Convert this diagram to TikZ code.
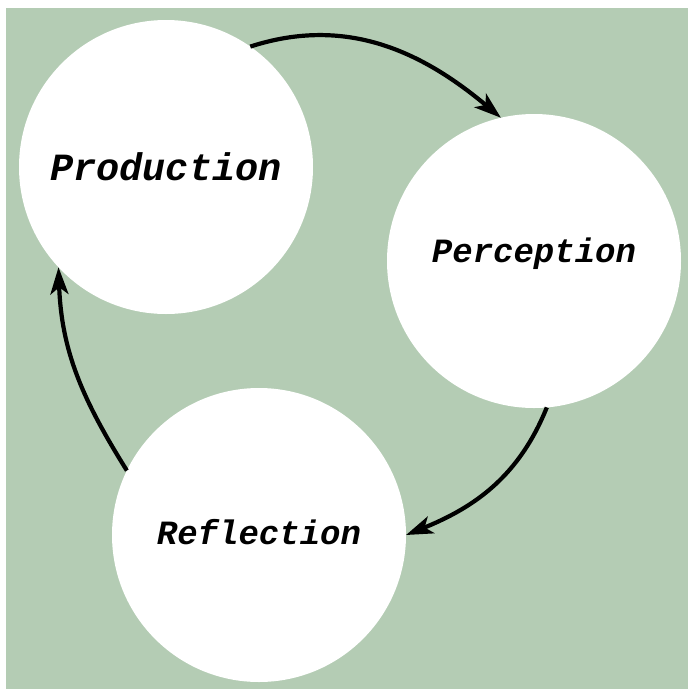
\documentclass[tikz,border=0pt]{standalone}
\usepackage{fontspec}
\setmonofont{Liberation Mono}
\usetikzlibrary{arrows.meta}
\definecolor{sage}{RGB}{180,204,180}

\begin{document}
\begin{tikzpicture}[x=1pt,y=-1pt]
	\tikzstyle{phase} = [circle, fill = white, minimum size = 294pt, inner sep = 0pt, outer sep = 0pt]
\tikzstyle{big} = [font = \fontsize{38.5}{40}\ttfamily\bfseries\itshape]
\tikzstyle{small} = [font = \fontsize{34}{36}\ttfamily\bfseries\itshape]
\tikzstyle{line} = [line width = 4.2pt, >={Stealth[length=27pt,width=18pt,inset=7pt]}]
	\useasboundingbox (0,0) rectangle (688,689);
	\fill[sage] (6,8) rectangle (688,689);
	\node(prod)[phase, label = {[big]center:Production}] at (166,167) {};
	\node(perc)[phase, label = {[small, yshift = 7pt]center:Perception}] at (534,261) {};
	\node(refl)[phase, label = {[small, yshift = 3pt]center:Reflection}] at (259,535) {};
	\draw[line,->](prod.55) to[out=18,in=140] (perc.103);
	\draw[line,->](perc.-85) to[out=-112,in=22] (refl.0);
	\draw[line,->](refl.154) to[out=122,in=-88] (prod.223);
  \end{tikzpicture}
\end{document}
